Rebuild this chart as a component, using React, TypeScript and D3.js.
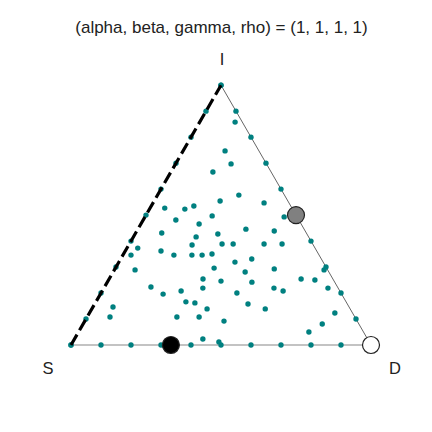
import React from "react";
import * as d3 from "d3";

// interior points, as (I, D) fractions; S = 1 - I - D
const interiorI = [
  0.858, 0.747, 0.697, 0.666, 0.577, 0.554, 0.535, 0.523, 0.527, 0.497, 0.481,
  0.547, 0.493, 0.466, 0.431, 0.416, 0.427, 0.446, 0.439, 0.385, 0.389, 0.389,
  0.389, 0.389, 0.373, 0.362, 0.346, 0.346, 0.346, 0.346, 0.35, 0.319, 0.331,
  0.296, 0.289, 0.281, 0.293, 0.289, 0.254, 0.246, 0.242, 0.254, 0.25, 0.223,
  0.219, 0.208, 0.196, 0.219, 0.208, 0.219, 0.2, 0.166, 0.162, 0.146, 0.139,
  0.158, 0.139, 0.108, 0.108, 0.108, 0.092, 0.123, 0.081, 0.05, 0.023, 0.012,
];
const interiorD = [
  0.118, 0.14, 0.185, 0.14, 0.271, 0.22, 0.142, 0.118, 0.049, 0.222, 0.109,
  0.37, 0.464, 0.194, 0.087, 0.209, 0.276, 0.36, 0.458, 0.211, 0.309, 0.346,
  0.449, 0.509, 0.036, 0.119, 0.027, 0.17, 0.23, 0.264, 0.295, 0.387, 0.437,
  0.329, 0.069, 0.44, 0.531, 0.699, 0.313, 0.377, 0.482, 0.64, 0.688, 0.155,
  0.33, 0.263, 0.209, 0.567, 0.603, 0.747, 0.453, 0.3, 0.332, 0.067, 0.384,
  0.511, 0.578, 0.076, 0.299, 0.373, 0.464, 0.818, 0.797, 0.768, 0.428, 0.487,
];

// points along the edges of the simplex
const edgeSteps = [0, 0.1, 0.2, 0.3, 0.4, 0.5, 0.6, 0.7, 0.8, 0.9, 1];

// highlighted states: [I, D, fill]
const markers: [number, number, string][] = [
  [0, 0.333, "#000000"],
  [0.5, 0.5, "#808080"],
  [0, 1, "#ffffff"],
];

const title = "(alpha, beta, gamma, rho) = (1, 1, 1, 1)";

const App = () => {
  const x = d3.scaleLinear().domain([0, 1]).range([71, 371]);
  const y = d3.scaleLinear().domain([0, 1]).range([345, 345 - 300 * Math.sqrt(3) / 2]);
  const px = (i: number, d: number) => x(d + i / 2);
  const py = (i: number) => y(i);

  const pts: [number, number][] = [];
  edgeSteps.forEach((t) => {
    pts.push([0, t]); // S-D edge
    pts.push([t, 0]); // S-I edge
    pts.push([t, 1 - t]); // I-D edge
  });
  interiorI.forEach((i, k) => pts.push([i, interiorD[k]]));

  const S = [px(0, 0), py(0)];
  const I = [px(1, 0), py(1)];
  const D = [px(0, 1), py(0)];

  const font = "'Liberation Sans', Arial, sans-serif";

  return (
    <svg width={432} height={432} style={{ position: "absolute", left: 0, top: 0 }}>
      <rect width={432} height={432} fill="#fff" />
      <text x={221.5} y={33} textAnchor="middle" fontFamily={font} fontSize={17} fill="#222">
        {title}
      </text>
      <text x={I[0] + 1} y={65} textAnchor="middle" fontFamily={font} fontSize={16.5} fill="#222">I</text>
      <text x={48} y={374} textAnchor="middle" fontFamily={font} fontSize={16.5} fill="#222">S</text>
      <text x={395} y={374} textAnchor="middle" fontFamily={font} fontSize={16.5} fill="#222">D</text>

      <line x1={S[0]} y1={S[1]} x2={D[0]} y2={D[1]} stroke="#888" strokeWidth={1.2} />
      <line x1={I[0]} y1={I[1]} x2={D[0]} y2={D[1]} stroke="#666" strokeWidth={1} />

      {pts.map((p, k) => (
        <circle key={k} cx={px(p[0], p[1])} cy={py(p[0])} r={2.7} fill="#008080" />
      ))}

      <line
        x1={S[0]} y1={S[1]} x2={I[0]} y2={I[1]}
        stroke="#000" strokeWidth={3.2} strokeDasharray="12,5"
      />

      {markers.map((m, k) => (
        <circle
          key={k}
          cx={px(m[0], m[1])}
          cy={py(m[0])}
          r={8.5}
          fill={m[2]}
          stroke="#222"
          strokeWidth={1.2}
        />
      ))}
    </svg>
  );
};

export default App;
